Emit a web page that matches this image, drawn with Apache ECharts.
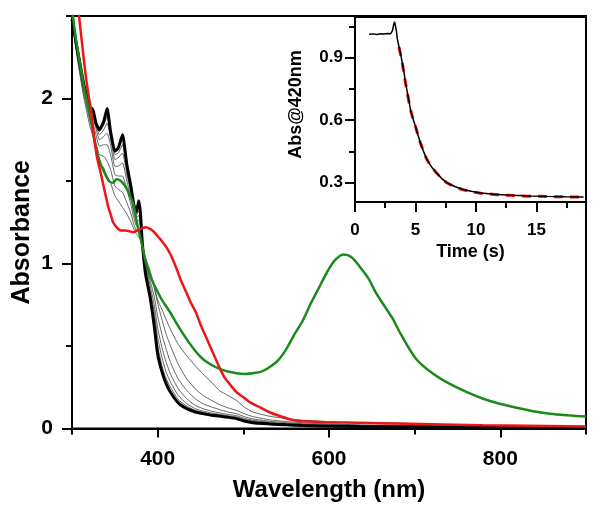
<!DOCTYPE html>
<html><head><meta charset="utf-8">
<script src="https://cdn.jsdelivr.net/npm/echarts@6/dist/echarts.min.js"></script>
<style>html,body{margin:0;padding:0;background:#fff}#c{width:600px;height:513px}</style>
</head><body><div id="c"></div>
<script>
// ---- Main spectra (wavelength nm, absorbance) ----
const wlK = [300,304,309,314,318,321,324,328,332,337,341,345,350,354,359,364,369,372,375,378,380,382,386,391,396,400,405,410,415,424,434,444,453,463,472,482,492,501,511,530,550,569,588,636,684,780,900];
const black = [2.48,2.36,2.22,2.08,2.00,1.92,1.94,1.85,1.81,1.86,1.94,1.80,1.68,1.70,1.78,1.60,1.46,1.36,1.31,1.38,1.30,1.13,0.93,0.80,0.62,0.45,0.345,0.27,0.22,0.155,0.12,0.10,0.09,0.08,0.075,0.068,0.06,0.045,0.035,0.028,0.022,0.018,0.015,0.012,0.01,0.007,0.005];
const thin1 = [2.48,2.36,2.22,2.08,2.00,1.93,1.93,1.85,1.80,1.84,1.89,1.78,1.66,1.67,1.72,1.57,1.44,1.35,1.29,1.32,1.26,1.13,0.95,0.81,0.67,0.50,0.38,0.30,0.25,0.175,0.135,0.11,0.097,0.087,0.08,0.072,0.064,0.05,0.04,0.03,0.024,0.02,0.017,0.013,0.011,0.008,0.006];
const thin2 = [2.48,2.35,2.21,2.07,1.99,1.93,1.91,1.84,1.78,1.81,1.85,1.76,1.63,1.64,1.67,1.54,1.42,1.34,1.28,1.29,1.24,1.13,0.97,0.84,0.71,0.55,0.43,0.34,0.28,0.20,0.15,0.12,0.105,0.094,0.086,0.077,0.07,0.055,0.045,0.034,0.027,0.022,0.019,0.014,0.012,0.009,0.007];
const thin3 = [2.49,2.35,2.20,2.06,1.98,1.92,1.89,1.82,1.75,1.77,1.79,1.72,1.59,1.59,1.61,1.50,1.39,1.31,1.26,1.26,1.22,1.12,0.99,0.87,0.75,0.61,0.49,0.40,0.33,0.24,0.18,0.14,0.12,0.105,0.095,0.085,0.078,0.062,0.05,0.038,0.03,0.025,0.021,0.016,0.013,0.01,0.008];
const thin4 = [2.49,2.34,2.19,2.05,1.96,1.90,1.86,1.78,1.71,1.72,1.72,1.66,1.54,1.53,1.53,1.45,1.35,1.28,1.23,1.22,1.19,1.12,1.01,0.90,0.80,0.68,0.57,0.48,0.40,0.30,0.23,0.18,0.15,0.13,0.115,0.10,0.09,0.072,0.058,0.044,0.035,0.029,0.025,0.019,0.015,0.012,0.009];
const thin5 = [2.50,2.33,2.17,2.02,1.93,1.86,1.82,1.73,1.66,1.65,1.62,1.57,1.47,1.45,1.43,1.37,1.30,1.24,1.20,1.19,1.16,1.11,1.03,0.94,0.85,0.76,0.66,0.57,0.50,0.39,0.30,0.24,0.20,0.17,0.145,0.125,0.11,0.09,0.072,0.053,0.042,0.035,0.03,0.022,0.018,0.014,0.011];
const thin6 = [2.50,2.32,2.15,2.00,1.90,1.83,1.78,1.69,1.61,1.58,1.53,1.49,1.41,1.38,1.34,1.30,1.25,1.21,1.18,1.16,1.14,1.10,1.03,0.96,0.86,0.78,0.72,0.66,0.60,0.51,0.44,0.38,0.33,0.28,0.23,0.20,0.17,0.13,0.10,0.075,0.06,0.05,0.045,0.033,0.026,0.018,0.014];

const wlR = [300,304,308,312,316,319,322,325,329,333,336,339,342,345,348,352,357,362,367,372,376,381,386,391,396,400,405,410,415,422,427,433,439,445,450,456,461,467,473,478,484,492,500,509,519,530,540,559,588,636,684,780,900];
const red = [2.9,2.7,2.51,2.32,2.14,2.03,1.94,1.80,1.65,1.56,1.49,1.42,1.35,1.30,1.25,1.22,1.20,1.20,1.195,1.19,1.20,1.21,1.22,1.21,1.19,1.165,1.135,1.10,1.055,0.97,0.90,0.83,0.76,0.70,0.63,0.56,0.50,0.43,0.36,0.31,0.27,0.22,0.19,0.155,0.13,0.10,0.08,0.05,0.04,0.035,0.03,0.02,0.012];

const wlG = [300,304,309,314,319,323,328,333,338,343,348,352,357,362,367,372,376,381,386,391,396,405,415,424,434,444,453,463,473,482,492,501,511,521,530,540,550,559,569,578,588,598,607,617,626,636,646,655,665,675,684,702,722,741,761,780,799,819,838,858,879,900];
const green = [2.55,2.38,2.22,2.07,1.95,1.84,1.70,1.61,1.55,1.50,1.49,1.51,1.50,1.47,1.42,1.35,1.24,1.13,1.01,0.93,0.87,0.78,0.70,0.62,0.54,0.47,0.42,0.385,0.36,0.345,0.335,0.33,0.335,0.345,0.37,0.41,0.48,0.565,0.65,0.75,0.85,0.95,1.02,1.055,1.04,0.98,0.91,0.82,0.74,0.66,0.57,0.42,0.33,0.27,0.22,0.18,0.15,0.126,0.105,0.09,0.08,0.072];

// ---- Inset kinetics (time s, Abs@420nm) ----
const tK = [1.16,1.5,1.8,2.1,2.4,2.7,2.95,3.1,3.2,3.28,3.35,3.42,3.5,3.64,3.8,3.92,4.05,4.19,4.4,4.6,4.8,5.02,5.2,5.43,5.7,5.98,6.4,6.81,7.2,7.64,8.3,9.0,9.7,10.4,11.5,12.5,13.1,14.5,15.9,17.4,18.9];
const aK = [1.012,1.014,1.011,1.015,1.013,1.016,1.015,1.03,1.06,1.072,1.068,1.03,0.99,0.951,0.91,0.871,0.83,0.775,0.71,0.647,0.605,0.567,0.53,0.487,0.445,0.407,0.37,0.343,0.318,0.298,0.28,0.266,0.257,0.25,0.244,0.241,0.239,0.236,0.234,0.232,0.231];
const tFit = [3.64,3.92,4.19,4.6,5.02,5.43,5.98,6.81,7.64,9.0,10.4,13.1,15.9,18.9];
const aFit = [0.951,0.87,0.775,0.648,0.565,0.488,0.408,0.342,0.298,0.265,0.249,0.238,0.233,0.231];

// ---- Tick values ----
const xMajor = [400,600,800], xMinor = [300,500,700,900];
const yMajor = [0,1,2], yMinor = [0.5,1.5,2.5];
const txMajor = [0,5,10,15], txMinor = [2.5,7.5,12.5,17.5];
const tyMajor = [0.3,0.6,0.9], tyMinor = [0.45,0.75,1.05];

const pairs = (xs, ys) => xs.map((x, i) => [x, ys[i]]);
const F = "'Liberation Sans', Arial, sans-serif";
const lblStyle = (size) => ({fontSize:size, fontWeight:'bold', fontFamily:F, color:'#000'});
const tickStyle = {color:'#000', width:2};
const axLine = {show:true, onZero:false, lineStyle:{color:'#000', width:2}};

function majorAxis(grid, min, max, major, len, margin, size, name, gap, nsize, fmt, pad) {
  return {gridIndex:grid, type:'value', min:min, max:max, axisLine:axLine,
    axisTick:{show:true, length:len, customValues:major, lineStyle:tickStyle},
    axisLabel:Object.assign({customValues:major, margin:margin, formatter:fmt}, lblStyle(size)),
    splitLine:{show:false}, name:name, nameLocation:'middle', nameGap:gap, nameMoveOverlap:false,
    nameTextStyle:Object.assign({padding:pad || 0}, lblStyle(nsize))};
}
function minorAxis(grid, min, max, minor, len) {
  return {gridIndex:grid, type:'value', min:min, max:max, axisLine:{show:false, onZero:false},
    axisTick:{show:true, length:len, customValues:minor, lineStyle:tickStyle},
    axisLabel:{show:false}, splitLine:{show:false}};
}

const thinStyle = {color:'#3c3c3c', width:0.8};
const line = (data, style, z, sm, xi, yi) => ({type:'line', data:data, xAxisIndex:xi||0, yAxisIndex:yi||0,
  showSymbol:false, symbol:'none', lineStyle:style, z:z, smooth:sm, silent:true, animation:false});

const chart = echarts.init(document.getElementById('c'));
chart.setOption({
  animation:false,
  backgroundColor:'#fff',
  grid:[
    {left:72, right:14, top:16, bottom:84.5, show:true, borderColor:'#000', borderWidth:2, outerBoundsMode:'none', containLabel:false},
    {left:355, right:14, top:17, height:185, show:true, borderColor:'#000', borderWidth:2, backgroundColor:'#fff', outerBoundsMode:'none', containLabel:false}
  ],
  xAxis:[
    Object.assign(majorAxis(0, 300, 900, xMajor, 9, 20, 21, 'Wavelength (nm)', 50, 24), {position:'bottom'}),
    Object.assign(minorAxis(0, 300, 900, xMinor, 6), {position:'bottom'}),
    Object.assign(majorAxis(1, 0, 19.1, txMajor, 10, 20, 17, 'Time (s)', 41, 18), {position:'bottom'}),
    Object.assign(minorAxis(1, 0, 19.1, txMinor, 6), {position:'bottom'})
  ],
  yAxis:[
    Object.assign(majorAxis(0, 0, 2.5, yMajor, 10, 19, 21, 'Absorbance', 37, 25, undefined, [0, 20, 0, 0]), {position:'left'}),
    Object.assign(minorAxis(0, 0, 2.5, yMinor, 6), {position:'left'}),
    Object.assign(majorAxis(1, 0.207, 1.095, tyMajor, 10, 12, 17, 'Abs@420nm', 50, 18, v => v.toFixed(1), [0, 0, 0, 10]), {position:'left'}),
    Object.assign(minorAxis(1, 0.207, 1.095, tyMinor, 6), {position:'left'})
  ],
  series:[
    line(pairs(wlK, thin1), thinStyle, 2, 0.15),
    line(pairs(wlK, thin2), thinStyle, 2, 0.15),
    line(pairs(wlK, thin3), thinStyle, 2, 0.15),
    line(pairs(wlK, thin4), thinStyle, 2, 0.15),
    line(pairs(wlK, thin5), thinStyle, 2, 0.15),
    line(pairs(wlK, thin6), thinStyle, 2, 0.15),
    line(pairs(wlK, black), {color:'#000', width:3}, 3, 0.15),
    line(pairs(wlG, green), {color:'#1a8a1a', width:2.5}, 4, 0.3),
    line(pairs(wlR, red), {color:'#ee1515', width:2.5}, 5, 0.3),
    line(pairs(tFit, aFit), {color:'#ee1515', width:3, type:[9,7]}, 6, 0.3, 2, 2),
    line(pairs(tK, aK), {color:'#000', width:1.5}, 7, 0, 2, 2)
  ]
});
</script>
</body></html>
